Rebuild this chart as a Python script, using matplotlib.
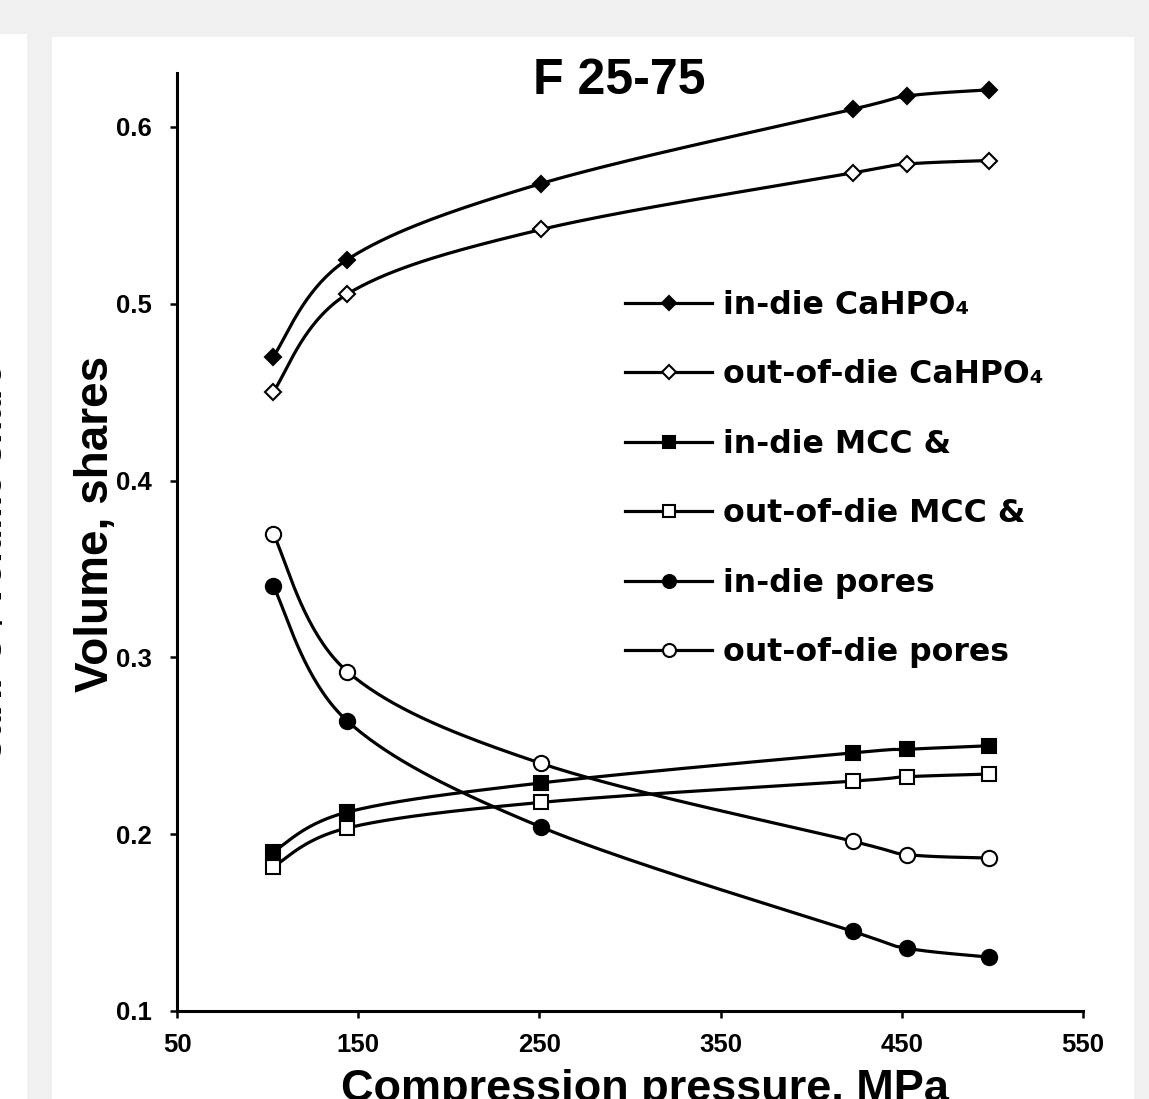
import numpy as np
import matplotlib
matplotlib.use("Agg")
import matplotlib.pyplot as plt
from matplotlib.lines import Line2D
from matplotlib.patches import Rectangle

# ---------------- data ----------------
pressure = [103, 144, 251, 423, 453, 498]
in_die_cahpo4 = [0.470, 0.525, 0.568, 0.610, 0.6175, 0.621]
out_die_cahpo4 = [0.450, 0.5055, 0.542, 0.574, 0.579, 0.581]
in_die_mcc = [0.190, 0.2125, 0.229, 0.246, 0.248, 0.250]
out_die_mcc = [0.1815, 0.2035, 0.218, 0.230, 0.2325, 0.234]
in_die_pores = [0.3405, 0.264, 0.204, 0.145, 0.1355, 0.1305]
out_die_pores = [0.370, 0.292, 0.240, 0.196, 0.1885, 0.1865]
labels = ["in-die CaHPO\u2084", "out-of-die CaHPO\u2084", "in-die MCC &",
          "out-of-die MCC &", "in-die pores", "out-of-die pores"]
x_ticks = [50, 150, 250, 350, 450, 550]
y_ticks = [0.1, 0.2, 0.3, 0.4, 0.5, 0.6]

W, H = 1149, 1099
fig = plt.figure(figsize=(W / 100, H / 100), dpi=100)
fig.patch.set_facecolor("#f0f0f0")

# white panels
fig.add_artist(Rectangle((0, 0), 27 / W, 1 - 34 / H, transform=fig.transFigure,
                         fc="white", ec="none", zorder=0))
fig.add_artist(Rectangle((52 / W, 0), (1134 - 52) / W, 1 - 37 / H,
                         transform=fig.transFigure, fc="white", ec="none", zorder=0))

NARROW = ["Liberation Sans Narrow", "Liberation Sans", "DejaVu Sans"]
ARIAL = ["Liberation Sans", "DejaVu Sans"]
VERD = ["DejaVu Sans"]

ax = fig.add_axes([177 / W, 88 / H, 906 / W, 938 / H])
ax.set_facecolor("none")
xmin, xmax, ymin, ymax = 50, 550, 0.1, 0.6305
ax.set_xlim(xmin, xmax)
ax.set_ylim(ymin, ymax)
for s in ["top", "right"]:
    ax.spines[s].set_visible(False)
for s in ["left", "bottom"]:
    ax.spines[s].set_linewidth(2.2)
ax.set_xticks(x_ticks)
ax.set_yticks(y_ticks)
ax.set_xticklabels([str(v) for v in x_ticks])
ax.set_yticklabels([f"{v:.1f}" for v in y_ticks])
ax.tick_params(axis="both", direction="out", length=5, width=1.8, labelsize=18.5)
ax.tick_params(axis="y", pad=13)
ax.tick_params(axis="x", pad=11)
for lab in ax.get_xticklabels() + ax.get_yticklabels():
    lab.set_family(NARROW)
    lab.set_fontweight("bold")

# smoothing (Excel-like Catmull-Rom bezier), computed in pixel-like space
sx = 906 / (xmax - xmin)
sy = 938 / (ymax - ymin)


def smooth(xs, ys, n=40):
    P = np.column_stack([(np.asarray(xs, float) - xmin) * sx,
                         (np.asarray(ys, float) - ymin) * sy])
    pts = []
    m = len(P)
    for i in range(m - 1):
        p0 = P[i - 1] if i > 0 else P[i]
        p1, p2 = P[i], P[i + 1]
        p3 = P[i + 2] if i + 2 < m else P[i + 1]
        c1 = p1 + (p2 - p0) / 6.0
        c2 = p2 - (p3 - p1) / 6.0
        t = np.linspace(0, 1, n)[:, None]
        seg = ((1 - t) ** 3) * p1 + 3 * ((1 - t) ** 2) * t * c1 + 3 * (1 - t) * t ** 2 * c2 + t ** 3 * p2
        pts.append(seg if i == 0 else seg[1:])
    pts = np.vstack(pts)
    return pts[:, 0] / sx + xmin, pts[:, 1] / sy + ymin


series = [
    (in_die_cahpo4, "D", "black", 8.5),
    (out_die_cahpo4, "D", "white", 8.5),
    (in_die_mcc, "s", "black", 10.5),
    (out_die_mcc, "s", "white", 10.5),
    (in_die_pores, "o", "black", 11),
    (out_die_pores, "o", "white", 11),
]

handles = []
for ys, mk, fc, ms in series:
    cx, cy = smooth(pressure, ys)
    ax.plot(cx, cy, color="black", lw=2.3, zorder=2, solid_capstyle="round")
    ax.plot(pressure, ys, linestyle="none", marker=mk, ms=ms, mfc=fc,
            mec="black", mew=1.5, zorder=3)
    handles.append(Line2D([], [], color="black", lw=2.3, marker=mk, ms=ms,
                          mfc=fc, mec="black", mew=1.5))

leg = fig.legend(handles, labels, loc="upper left",
                 bbox_to_anchor=(625 / W, 1 - 290 / H),
                 bbox_transform=fig.transFigure, frameon=False,
                 borderpad=0, borderaxespad=0, handlelength=2.76,
                 handletextpad=0.35, labelspacing=1.22, markerscale=0.85,
                 prop={"family": VERD, "weight": "bold", "size": 22.7})

# titles and labels
fig.text(619 / W, 1 - 94 / H, "F 25-75", ha="center", va="baseline",
         fontsize=36, fontweight="bold", family=ARIAL)
fig.text(108 / W, 1 - 524 / H, "Volume, shares", rotation=90,
         rotation_mode="anchor", ha="center", va="baseline",
         fontsize=33, fontweight="bold", family=NARROW)
fig.text(645 / W, 1 - 1101 / H, "Compression pressure, MPa", ha="center",
         va="baseline", fontsize=32.5, fontweight="bold", family=NARROW)
# neighbouring panel label, cut off at the figure edge
fig.text(2 / W, 1 - 563 / H, "CaHPO\u2084 volume share", rotation=90,
         rotation_mode="anchor", ha="center", va="baseline",
         fontsize=27, fontweight="bold", family=NARROW)

fig.savefig("out.png", dpi=100, facecolor=fig.get_facecolor())
